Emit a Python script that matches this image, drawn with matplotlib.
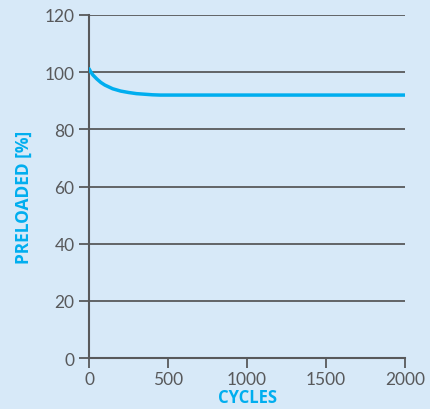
import matplotlib
matplotlib.use("Agg")
import matplotlib.pyplot as plt

cycles = [0, 10, 25, 50, 75, 100, 150, 200, 250, 300, 350, 400, 450, 500, 1000, 1500, 2000]
preload = [101.2, 100.2, 99.0, 97.6, 96.4, 95.5, 94.2, 93.4, 92.9, 92.5, 92.3, 92.1, 92.0, 92.0, 92.0, 92.0, 92.0]
xticks = [0, 500, 1000, 1500, 2000]
yticks = [0, 20, 40, 60, 80, 100, 120]

bg = "#d7e9f8"
gray = "#58595b"
blue = "#00aeef"

plt.rcParams['font.family'] = ['Lato', 'DejaVu Sans']
fig = plt.figure(figsize=(4.3, 4.1), dpi=100, facecolor=bg)
ax = fig.add_axes([0.207, 0.124, 0.735, 0.837])
ax.set_facecolor(bg)
ax.plot(cycles, preload, color=blue, lw=2.5, solid_capstyle='round', zorder=3)
ax.set_xlim(0, 2000)
ax.set_ylim(0, 120)
ax.set_xticks(xticks)
ax.set_yticks(yticks)
ax.grid(axis='y', color=gray, lw=1.3)
ax.set_axisbelow(True)
for s in ['top', 'right']:
    ax.spines[s].set_visible(False)
for s in ['left', 'bottom']:
    ax.spines[s].set_color(gray)
    ax.spines[s].set_linewidth(1.5)
ax.tick_params(axis='both', colors=gray, labelcolor=gray, labelsize=12.5, width=1.3, length=7)
ax.tick_params(axis='x', pad=2)
ax.set_xlabel("CYCLES", color=blue, fontweight='bold', fontsize=12, labelpad=1,
              family=['Open Sans', 'DejaVu Sans'])
ax.set_ylabel("PRELOADED [%]", color=blue, fontweight='bold', fontsize=12.5,
              family=['Open Sans', 'DejaVu Sans'])
ax.yaxis.set_label_coords(-0.178, 0.47)
fig.savefig("out.png", dpi=100, facecolor=bg)
